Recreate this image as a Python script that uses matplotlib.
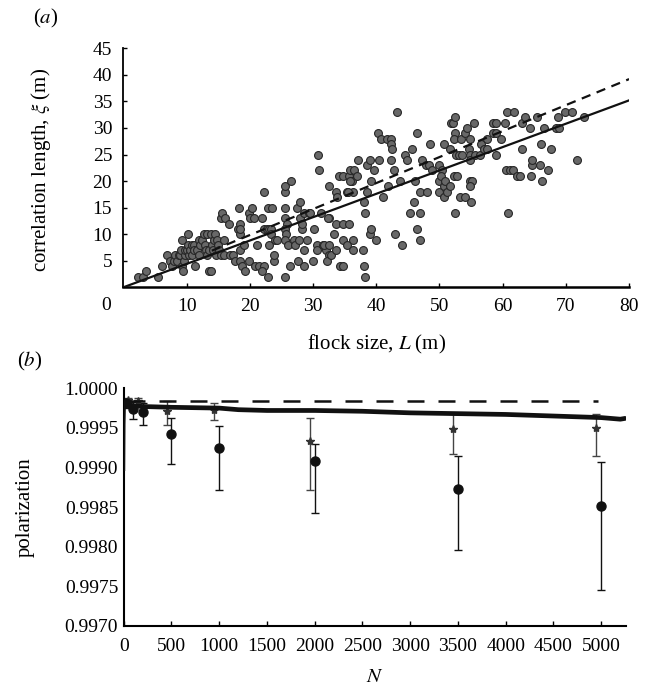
import numpy as np
import matplotlib
matplotlib.use('Agg')
import matplotlib.pyplot as plt

plt.rcParams['font.family'] = ['Liberation Serif', 'DejaVu Serif']
plt.rcParams['mathtext.fontset'] = 'stix'

# (a) flock size L (m) vs correlation length xi (m)
flock_size = [
    2.3, 3.1, 3.6, 5.5, 6.1, 6.9, 7.4, 7.7, 8.0, 8.2,
    8.5, 8.8, 9.0, 9.1, 9.3, 9.3, 9.4, 9.6, 9.8, 9.8, 10.1, 10.2,
    10.3, 10.4, 10.6, 10.9, 10.8, 11.1, 11.2, 11.4, 11.7, 11.9, 12.0,
    12.2, 12.5, 12.7, 12.9, 13.0, 13.2, 13.3, 13.5, 13.6, 13.9, 13.8, 14.0,
    14.3, 14.2, 14.5, 14.6, 14.8, 15.0, 15.1, 15.4, 15.5, 15.6, 15.9, 16.1, 16.0,
    16.7, 16.9, 17.3, 17.7, 18.1, 18.3, 18.4, 18.5, 18.5, 18.5, 18.8, 19.1, 19.3, 19.8, 19.8, 20.0, 18.4,
    20.4, 20.6, 20.9, 21.2, 21.4, 22.0, 22.2, 22.3, 22.3, 22.7, 22.9,
    22.9, 23.0, 23.3, 23.5, 23.4, 23.8, 23.9, 24.0, 24.3, 23.1, 22.0,
    25.5, 25.6, 25.5, 25.5, 25.9, 25.6, 25.8, 25.6, 26.0, 25.5, 26.6, 26.3, 27.0, 27.2,
    27.5, 27.8, 27.9, 28.0, 28.2, 28.3, 28.5, 28.6, 28.6, 27.7, 29.1, 29.3, 29.6,
    30.1, 30.0, 30.8, 31.0, 30.7, 30.7, 31.2, 31.6, 32.0, 32.5, 32.5, 32.5, 32.2, 32.8, 33.3,
    33.6, 33.7, 33.8, 34.1, 34.3, 32.4, 31.7, 32.5, 33.7, 34.8, 34.8, 35.4, 34.8, 34.8,
    35.7, 35.9, 36.2, 36.5, 37.0, 37.1, 36.4, 35.7, 36.3, 35.3, 36.3, 37.9, 38.6,
    39.0, 39.1, 38.6, 38.1, 38.2, 39.6, 38.1, 38.3, 39.0, 39.1, 39.9, 35.5, 35.8,
    40.3, 40.7, 40.4, 41.0, 41.7, 42.3, 42.3, 42.5, 42.3, 42.8, 41.8, 43.3, 43.7, 43.0, 44.0, 44.6, 44.8,
    45.7, 46.2, 45.9, 45.3, 46.9, 46.5, 47.0, 46.5, 47.2, 47.0, 48.1, 47.8, 48.3, 48.5, 48.9, 49.9, 49.9, 49.9,
    50.4, 50.3, 50.7, 50.9, 50.7, 51.2, 51.7, 50.8, 51.7, 51.8, 52.1, 52.5, 52.5, 52.3, 52.3, 52.8, 52.4,
    52.6, 53.1, 53.4, 53.3, 53.6, 54.0, 54.0, 54.4, 54.8, 54.6, 54.8, 54.9, 54.9, 55.2, 54.9, 55.0,
    55.5, 55.7, 56.5, 56.4, 57.1, 57.6, 57.6, 58.4, 58.5, 59.0, 58.9, 58.9, 59.7,
    60.4, 60.7, 61.8, 60.6, 61.2, 61.7, 62.3, 62.8, 60.9, 63.0, 63.1, 63.6, 64.4, 64.5, 64.6,
    64.6, 65.4, 65.9, 66.1, 66.3, 66.5, 67.2, 67.6, 68.4, 68.9, 68.8, 69.9, 71.0, 71.8, 72.9,
]
corr_length = [
    2, 2, 3, 2, 4, 6, 5, 4, 5, 6,
    5, 6, 6, 7, 9, 4, 3, 5, 6, 7, 7, 10,
    8, 6, 7, 6, 8, 8, 7, 4, 7, 9, 6,
    8, 9, 10, 8, 7, 10, 6, 7, 3, 3, 10, 8,
    9, 7, 10, 6, 9, 8, 7, 6, 13, 14, 9, 13, 6,
    12, 6, 6, 5, 11, 15, 10, 12, 7, 5, 4, 8, 3, 5, 14, 13, 11,
    15, 13, 4, 8, 4, 13, 18, 11, 4, 11, 2,
    15, 11, 11, 15, 10, 5, 6, 9, 9, 8, 3,
    18, 19, 15, 13, 12, 11, 10, 9, 8, 2, 20, 4, 9, 8,
    15, 9, 16, 13, 11, 12, 14, 7, 4, 5, 9, 14, 14,
    11, 5, 25, 22, 8, 7, 14, 8, 7, 13, 19, 6, 5, 6, 10,
    12, 18, 17, 21, 4, 13, 8, 8, 7, 9, 21, 18, 4, 12,
    21, 22, 20, 22, 21, 24, 18, 12, 9, 8, 7, 7, 23,
    24, 20, 18, 16, 14, 22, 4, 2, 10, 11, 9, 18, 20,
    29, 28, 24, 17, 28, 28, 27, 26, 24, 22, 19, 33, 20, 10, 8, 25, 24,
    26, 20, 16, 14, 14, 11, 9, 29, 24, 18, 18, 23, 23, 27, 22, 23, 20, 18,
    22, 21, 19, 20, 17, 18, 19, 27, 26, 31, 31, 32, 29, 28, 21, 21, 14,
    25, 25, 28, 17, 25, 17, 29, 30, 28, 26, 25, 24, 20, 20, 19, 16,
    31, 25, 27, 25, 26, 26, 28, 29, 31, 31, 29, 25, 28,
    31, 33, 33, 22, 22, 22, 21, 21, 14, 26, 31, 32, 30, 21, 23,
    24, 32, 23, 27, 20, 30, 22, 26, 30, 30, 32, 33, 33, 24, 32,
]
fit_L = [0, 80]
fit_xi = [0, 35.2]
alt_fit_L = [14, 80]
alt_fit_xi = [6.9, 39.2]

# (b) polarization vs N
dot_N = [20, 100, 200, 500, 1000, 2000, 3500, 5000]
dot_pol = [0.99981, 0.99974, 0.99970, 0.99942, 0.99925, 0.99908, 0.99873, 0.99852]
dot_lo = [0.99975, 0.99961, 0.99954, 0.99905, 0.99871, 0.99843, 0.99796, 0.99746]
dot_hi = [0.99986, 0.99983, 0.99982, 0.99963, 0.99952, 0.99930, 0.99915, 0.99907]

star_N = [40, 150, 450, 950, 1950, 3450, 4950]
star_pol = [0.99985, 0.99984, 0.99971, 0.99973, 0.99933, 0.99949, 0.99950]
star_lo = [0.99980, 0.99978, 0.99954, 0.99960, 0.99871, 0.99917, 0.99915]
star_hi = [0.99988, 0.99988, 0.99984, 0.99982, 0.99963, 0.99968, 0.99968]

model_N = [12, 30, 100, 200, 500, 1000, 1200, 1500, 2000, 2500, 3000, 3500,
           4000, 4500, 5000, 5200, 5250]
model_pol = [0.99983, 0.99980, 0.99978, 0.99977, 0.99976, 0.99975, 0.99973, 0.99972,
             0.99972, 0.99971, 0.99969, 0.99968, 0.99967, 0.99965, 0.99963, 0.99961, 0.99962]
early_N = [4, 7, 12]
early_pol = [0.99897, 0.99955, 0.99983]
flat_N = [50, 4970]
flat_pol = [0.99984, 0.99984]

fig = plt.figure(figsize=(6.56, 6.93), dpi=100)

# ---------- panel (a)
ax = fig.add_axes([0.188, 0.5854, 0.771, 0.3449])
ax.scatter(flock_size, corr_length, s=32, facecolor='#686868', edgecolor='#262626',
           linewidth=0.8, zorder=2)
ax.plot(fit_L, fit_xi, color='#111111', lw=1.6, zorder=3)
ax.plot(alt_fit_L, alt_fit_xi, color='#111111', lw=1.6, dashes=(4.2, 3.0), zorder=3)
ax.set_xlim(0, 80)
ax.set_ylim(0, 45)
ax.set_xticks(np.arange(10, 81, 10))
ax.set_yticks(np.arange(5, 46, 5))
ax.spines['right'].set_visible(False)
ax.spines['top'].set_visible(False)
ax.spines['bottom'].set_linewidth(1.8)
ax.spines['left'].set_linewidth(1.3)
ax.tick_params(axis='x', direction='in', length=3, width=1, pad=8, labelsize=14)
ax.tick_params(axis='y', direction='in', length=3, width=1, pad=8, labelsize=14)
ax.text(-0.034, -0.074, '0', transform=ax.transAxes, ha='center', va='center', fontsize=14)
ax.set_xlabel('flock size, $L$ (m)', fontsize=15)
ax.xaxis.set_label_coords(0.5, -0.19)
ax.set_ylabel(r'correlation length, $\xi$ (m)', fontsize=15)
ax.yaxis.set_label_coords(-0.139, 0.49)
fig.text(0.07, 0.974, '($a$)', ha='center', va='center', fontsize=15)

# ---------- panel (b)
bx = fig.add_axes([0.1886, 0.0967, 0.7657, 0.343])
bx.plot(flat_N, flat_pol, color='#111111', lw=1.8, dashes=(6.8, 5.6), zorder=3)
bx.plot(early_N, early_pol, color='#111111', lw=1.6, zorder=3)
bx.plot(model_N, model_pol, color='#111111', lw=3.4, solid_capstyle='round', zorder=3)
bx.errorbar(star_N, star_pol,
            yerr=[np.subtract(star_pol, star_lo), np.subtract(star_hi, star_pol)],
            fmt='*', color='#333333', ecolor='#444444', markersize=6, elinewidth=1,
            capsize=3, capthick=1, zorder=2)
bx.errorbar(dot_N, dot_pol,
            yerr=[np.subtract(dot_pol, dot_lo), np.subtract(dot_hi, dot_pol)],
            fmt='o', color='#111111', ecolor='#111111', markersize=6.5, elinewidth=1,
            capsize=3, capthick=1, zorder=2)
bx.set_xlim(0, 5260)
bx.set_ylim(0.997, 1.0)
bx.set_xticks(np.arange(0, 5001, 500))
bx.set_yticks(np.arange(0.997, 1.00001, 0.0005))
bx.yaxis.set_major_formatter(matplotlib.ticker.FormatStrFormatter('%.4f'))
bx.spines['right'].set_visible(False)
bx.spines['top'].set_visible(False)
bx.spines['bottom'].set_linewidth(1.5)
bx.spines['left'].set_linewidth(1.5)
bx.tick_params(axis='x', direction='in', length=3.5, width=1, pad=9, labelsize=14)
bx.tick_params(axis='y', direction='in', length=0, width=1, pad=4, labelsize=14)
bx.set_xlabel('$N$', fontsize=15)
bx.xaxis.set_label_coords(0.5, -0.175)
bx.set_ylabel('polarization', fontsize=15)
bx.yaxis.set_label_coords(-0.177, 0.5)
fig.text(0.045, 0.478, '($b$)', ha='center', va='center', fontsize=15)

fig.savefig('out.png', dpi=100)
